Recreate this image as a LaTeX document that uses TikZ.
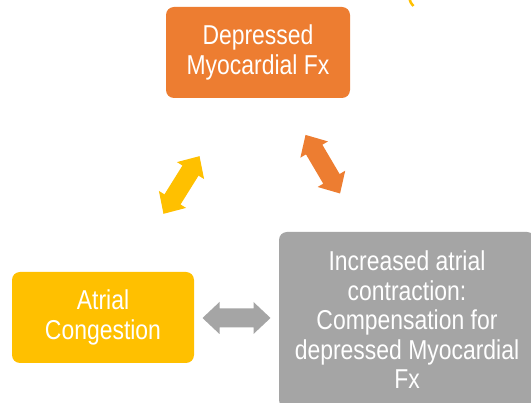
\documentclass[tikz,border=0pt]{standalone}
\usepackage{fontspec}
\setmainfont{Liberation Sans}[FakeStretch=0.84]
\definecolor{orng}{HTML}{ED7D31}
\definecolor{ylw}{HTML}{FFC000}
\definecolor{gry}{HTML}{A5A5A5}
\begin{document}
\begin{tikzpicture}[x=1pt,y=-1pt,
  box/.style={rounded corners=8pt, text=white, align=center,
    font=\fontsize{27.3}{29.5}\selectfont, inner sep=0pt},
  pics/dblarrow/.style={code={
    \fill[#1] (-34,0) -- (-17,-16) -- (-17,-9.5) -- (17,-9.5) -- (17,-16)
      -- (34,0) -- (17,16) -- (17,9.5) -- (-17,9.5) -- (-17,16) -- cycle;}}
]
\clip (0,0) rectangle (531,403);
\fill[white] (0,0) rectangle (531,403);

\node[box, fill=orng, minimum width=184pt, minimum height=91pt] (dep) at (258,52.5)
  {Depressed\\Myocardial Fx};
\node[box, fill=ylw, minimum width=182pt, minimum height=91pt] (atr) at (103,317.5)
  {Atrial\\Congestion};
\node[box, fill=gry, minimum width=256pt, minimum height=176pt] (inc) at (407,320)
  {Increased atrial\\contraction:\\Compensation for\\depressed Myocardial\\Fx};

\pic[rotate=58] at (181.5,185) {dblarrow=ylw};
\pic[rotate=-59.5] at (322.8,164.2) {dblarrow=orng};
\pic at (236.5,318) {dblarrow=gry};

\draw[ylw, line width=2.5pt] (409.5,-1) .. controls (410.5,2.5) .. (413.5,6);
\end{tikzpicture}
\end{document}
